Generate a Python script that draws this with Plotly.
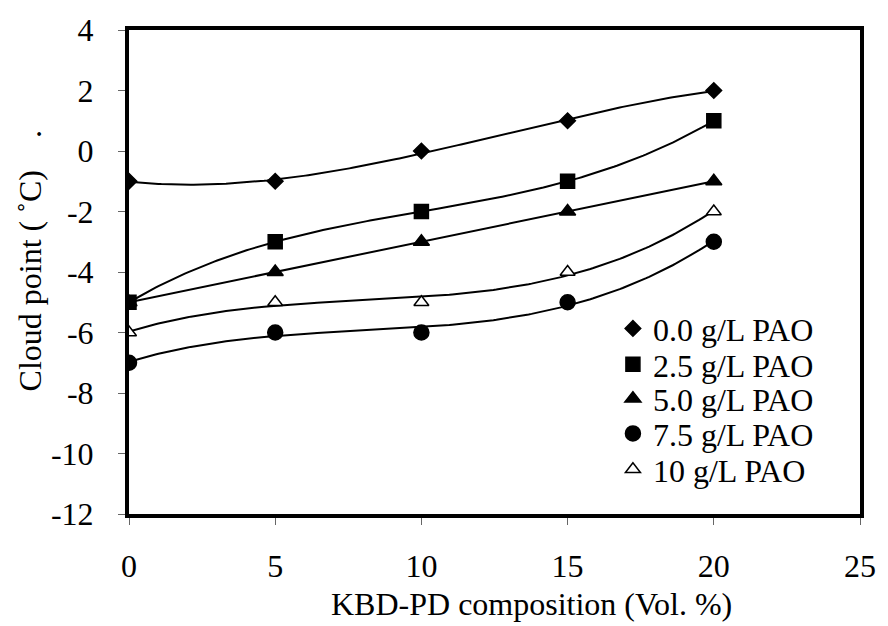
import numpy as np
import plotly.graph_objects as go

x_vals = [0, 5, 10, 15, 20]
labels = ["0.0 g/L PAO", "2.5 g/L PAO", "5.0 g/L PAO", "7.5 g/L PAO", "10 g/L PAO"]
s00 = [-1, -1, 0, 1, 2]
s25 = [-5, -3, -2, -1, 1]
s50 = [-5, -4, -3, -2, -1]
s75 = [-7, -6, -6, -5, -3]
s10 = [-6, -5, -5, -4, -2]
series = [s00, s25, s50, s75, s10]
symbols = ["diamond", "square", "triangle-up", "circle", "triangle-up"]
fills = ["black", "black", "black", "black", "white"]
sizes = [12, 14, 14, 15, 13]
y_ticks = list(range(-12, 5, 2))
x_ticks = [0, 5, 10, 15, 20, 25]

FONT = "Liberation Serif, serif"
FS = 32
fig = go.Figure()

# polynomial (order 3) trendlines computed from the data
xf = np.linspace(0, 20, 200)
for ys in series:
    c = np.polyfit(x_vals, ys, 3)
    fig.add_trace(go.Scatter(x=xf, y=np.polyval(c, xf), mode="lines",
                             line=dict(color="black", width=2), showlegend=False,
                             hoverinfo="skip"))

legend_ids = ["legend", "legend2", "legend3", "legend4", "legend5"]
for ys, lab, sym, sz, fc, lid in zip(series, labels, symbols, sizes, fills, legend_ids):
    fig.add_trace(go.Scatter(x=x_vals, y=ys, mode="markers", name=lab, legend=lid,
                             marker=dict(symbol=sym, size=sz, color=fc,
                                         line=dict(color="black", width=1.5))))

axis_common = dict(showgrid=False, zeroline=False,
                   showline=True, linecolor="black", linewidth=4, mirror=True,
                   ticks="outside", ticklen=7, tickcolor="#666", tickwidth=1,
                   tickfont=dict(family=FONT, size=FS, color="black"))

row_y = [0.383, 0.309, 0.238, 0.166, 0.092]
legend_layout = {}
for lid, yy in zip(legend_ids, row_y):
    legend_layout[lid] = dict(x=0.662, y=yy, xanchor="left", yanchor="middle",
                              bgcolor="rgba(0,0,0,0)", borderwidth=0,
                              font=dict(family=FONT, size=FS, color="black"),
                              itemwidth=30)

fig.update_layout(
    width=888, height=626,
    margin=dict(l=129, r=18, t=26, b=112),
    paper_bgcolor="white", plot_bgcolor="white",
    font=dict(family=FONT, size=FS, color="black"),
    xaxis=dict(range=[0, 25], tickvals=x_ticks, ticktext=[str(v) for v in x_ticks],
               ticklabelstandoff=14, **axis_common),
    yaxis=dict(range=[-12, 4], tickvals=y_ticks, ticktext=[str(v) for v in y_ticks],
               ticklabelstandoff=18, **axis_common),
    annotations=[
        dict(text="KBD-PD composition (Vol. %)", xref="paper", yref="paper",
             x=0.5506, y=-0.2275, xanchor="center", yanchor="bottom", showarrow=False,
             font=dict(family=FONT, size=FS, color="black")),
        dict(text="Cloud point ( ˚C)\u00a0\u00a0\u00a0\u00a0.", xref="paper", yref="paper",
             x=-0.135, y=0.5225, xanchor="center", yanchor="middle", showarrow=False,
             textangle=-90, font=dict(family=FONT, size=FS, color="black")),
    ],
    **legend_layout,
)

fig.write_html("out.html")
